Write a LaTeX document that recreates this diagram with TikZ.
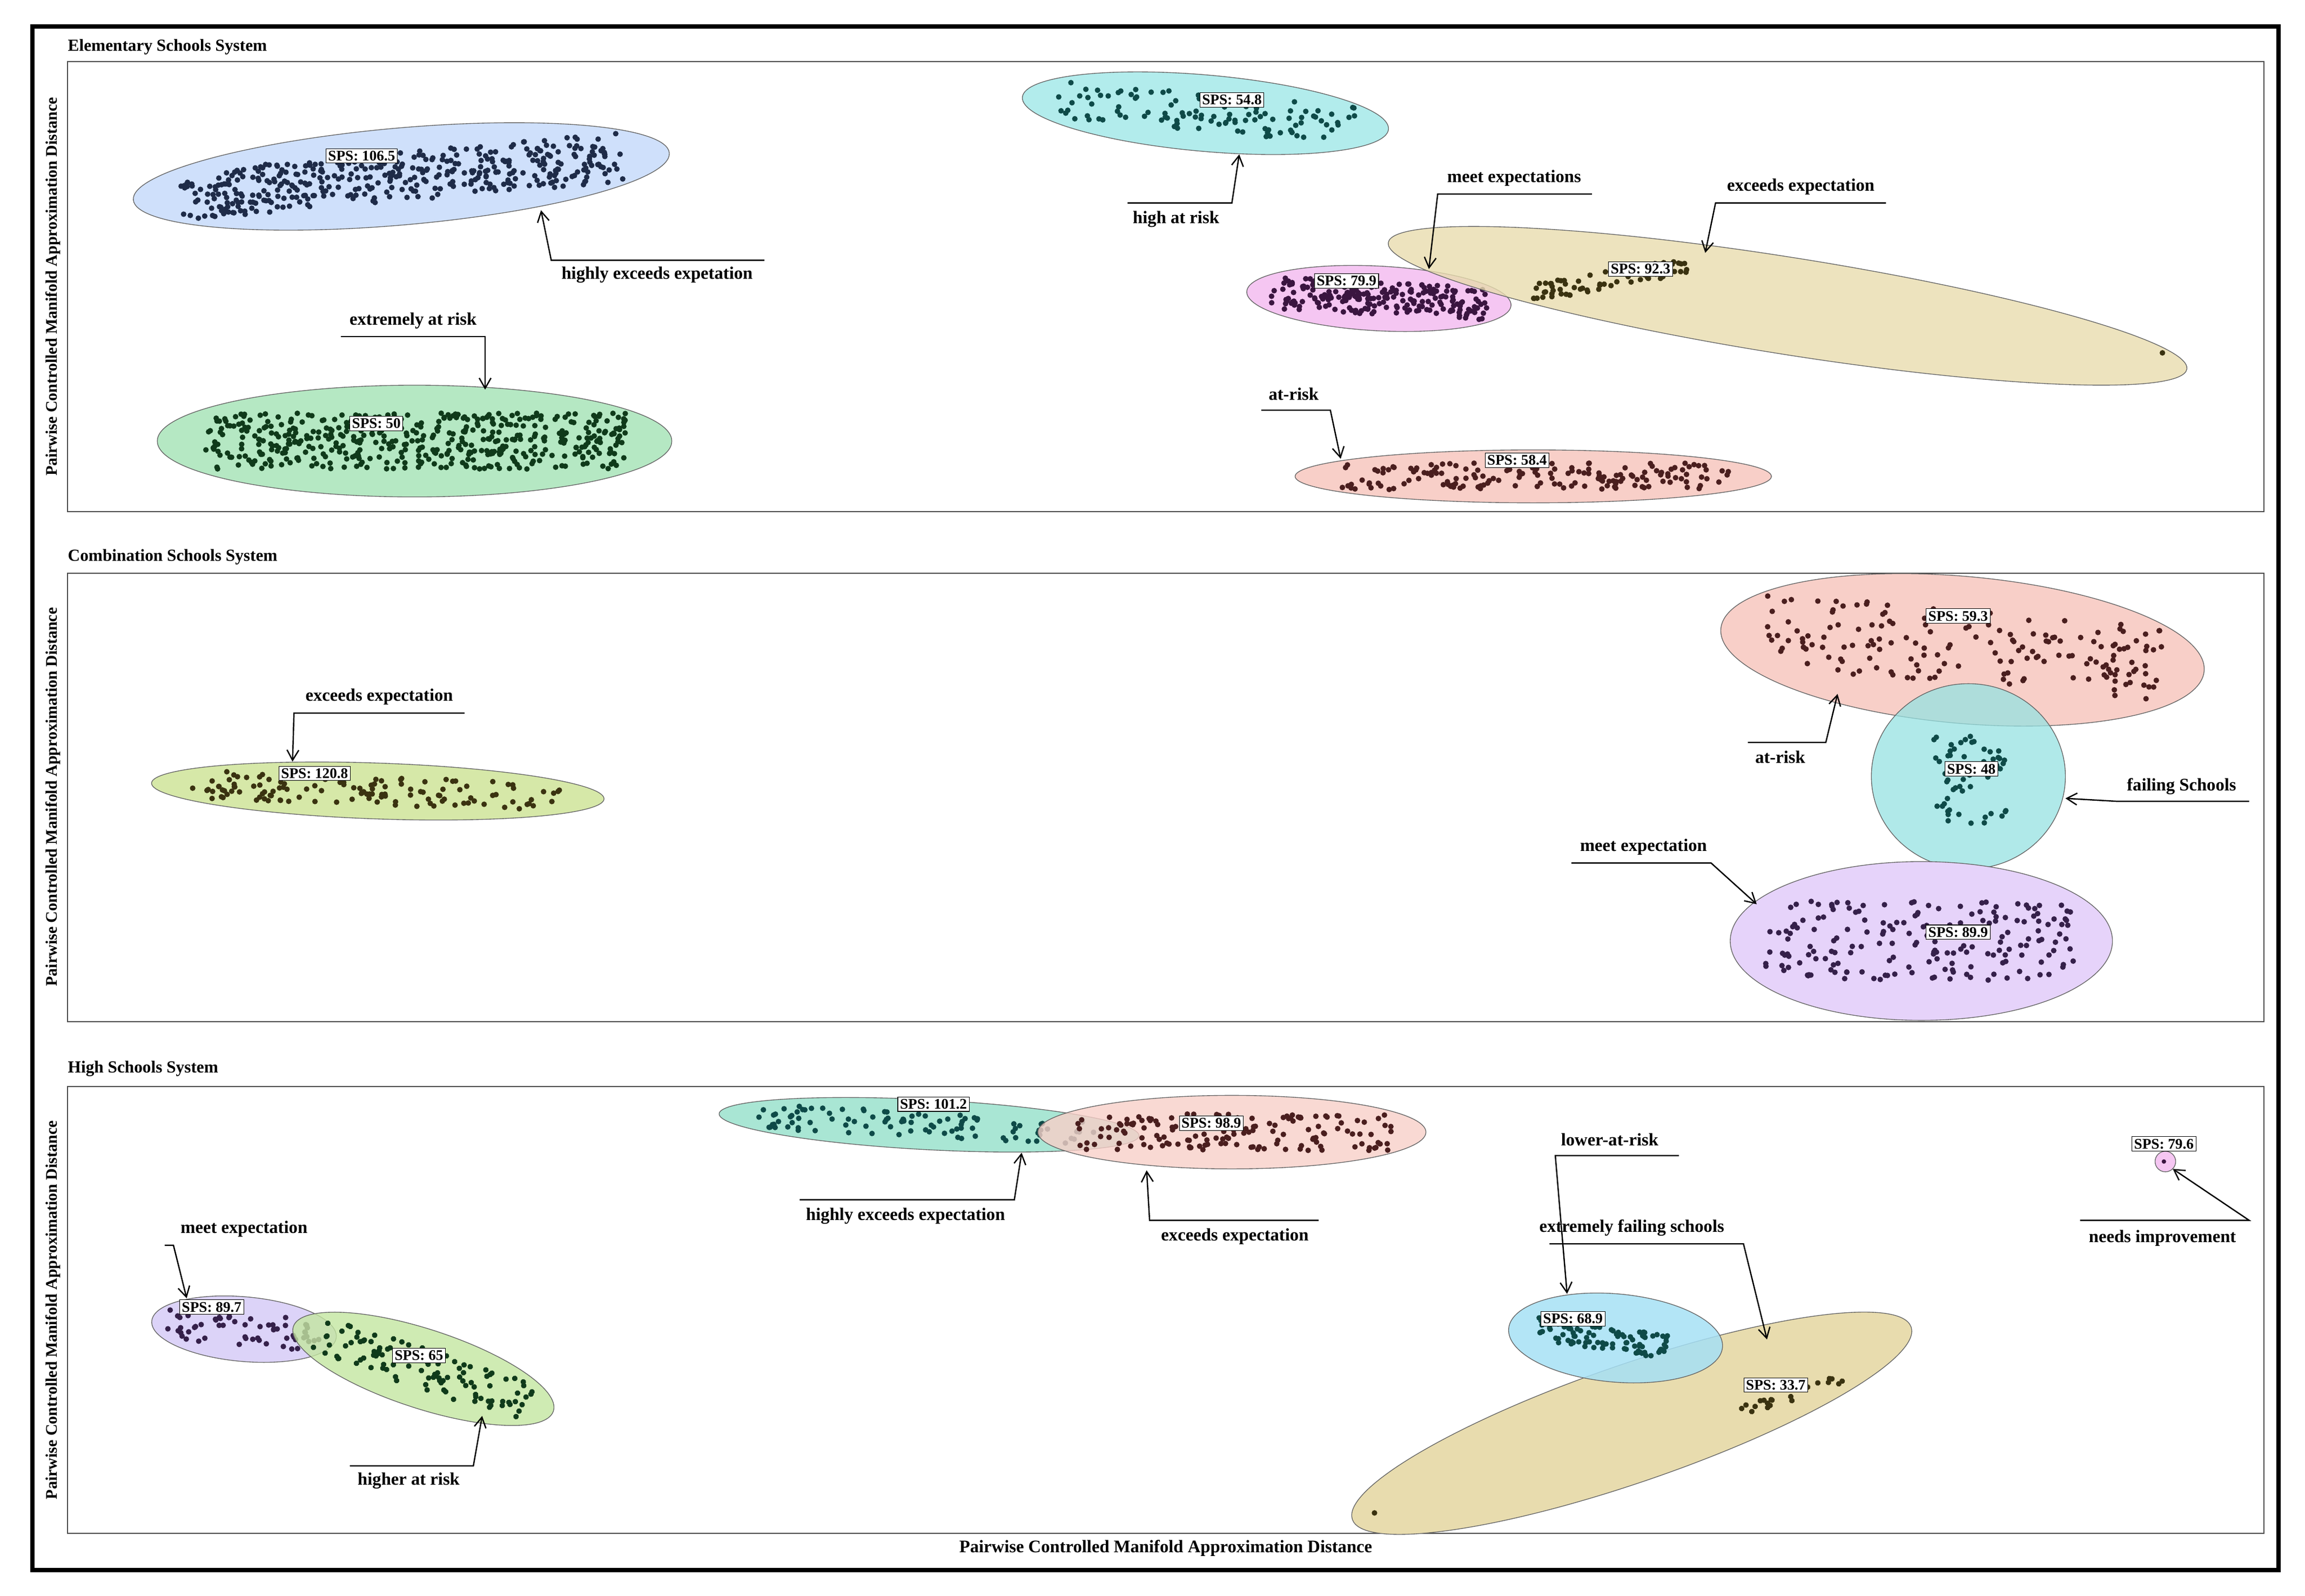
\documentclass[tikz,border=0pt]{standalone}
\usepackage{fontspec}
\setmainfont{Liberation Serif}
\begin{document}
\begin{tikzpicture}[x=1pt,y=-1pt,
  lab/.style={font=\bfseries\fontsize{12}{13}\selectfont,inner sep=1pt},
  sps/.style={draw,fill=white,font=\bfseries\fontsize{10}{11}\selectfont,inner sep=1.5pt},
  ttl/.style={font=\bfseries\fontsize{11.5}{12}\selectfont,anchor=west,inner sep=0pt},
  ylab/.style={font=\bfseries\fontsize{11}{12}\selectfont,rotate=90,inner sep=0pt},
  arr/.style={draw,line width=0.9pt,->,>={Straight Barb[length=7pt,width=8pt]}},
  ell/.style={draw=black!60,line width=0.5pt}]
\usetikzlibrary{arrows.meta}
\useasboundingbox (0,0) rectangle (1568,1085.5);
\pgfmathsetseed{7}
\newcommand\clust[7]{%
  \begin{scope}[shift={(#1,#2)},rotate=#5]
   \foreach \k in {1,...,#6}{\fill[#7] ({rand*#3*0.82},{rand*#4*0.5}) circle (1.9);}
  \end{scope}}
\definecolor{dkb}{HTML}{1E2B48}\definecolor{dkg}{HTML}{0F3A1A}\definecolor{dkt}{HTML}{0E4A48}
\definecolor{dkp}{HTML}{3A1540}\definecolor{dkr}{HTML}{4A1E1E}\definecolor{dky}{HTML}{3A3210}
\definecolor{dkv}{HTML}{35204A}
% frame
\draw[line width=3pt] (22,18) rectangle (1550,1068);
\foreach \a/\b in {42/348,390/695,739/1043}{\draw[black!70,line width=0.7pt] (46,\a) rectangle (1540,\b);}
\node[ttl] (t1) at (46,32) {Elementary Schools System};
\node[ttl] (t2) at (46,379) {Combination Schools System};
\node[ttl] (t3) at (46,727) {High Schools System};
\foreach \c/\n in {195/y1,542/y2,891/y3}{\node[ylab] (\n) at (36,\c) {Pairwise Controlled Manifold Approximation Distance};}
\node[lab] (xl) at (793,1053) {Pairwise Controlled Manifold Approximation Distance};
% ---- panel 1
\fill[ell,fill={rgb,255:red,207;green,224;blue,251}] (273,120) ellipse [x radius=183,y radius=33,rotate=5];
\clust{273}{120}{183}{33}{5}{420}{dkb}
\fill[ell,fill={rgb,255:red,178;green,236;blue,236}] (820,77) ellipse [x radius=125,y radius=26,rotate=-5];
\clust{820}{77}{125}{26}{-5}{110}{dkt}
\fill[ell,fill={rgb,255:red,181;green,232;blue,195}] (282,300) ellipse [x radius=175,y radius=38];
\clust{282}{300}{175}{38}{0}{480}{dkg}
\fill[ell,fill={rgb,255:red,245;green,198;blue,242}] (938,203) ellipse [x radius=90,y radius=22,rotate=-3];
\clust{938}{203}{90}{22}{-3}{220}{dkp}
\fill[ell,fill={rgb,255:red,232;green,220;blue,174},fill opacity=0.8] (1216,208) ellipse [x radius=275,y radius=33,rotate=-9];
\clust{1095}{190}{65}{12}{10}{70}{dky}
\fill[dky] (1471,240) circle (1.9);
\fill[ell,fill={rgb,255:red,248;green,207;blue,200}] (1043,324) ellipse [x radius=162,y radius=18];
\clust{1043}{324}{162}{18}{0}{160}{dkr}
\node[sps] (s1) at (246,106) {SPS: 106.5};
\node[sps] (s2) at (838,68) {SPS: 54.8};
\node[sps] (s3) at (256,288) {SPS: 50};
\node[sps] (s4) at (916,191) {SPS: 79.9};
\node[sps] (s5) at (1116,183) {SPS: 92.3};
\node[sps] (s6) at (1032,313) {SPS: 58.4};
\node[lab] (a1) at (447,187) {highly exceeds expetation};
\draw[arr] (520,177) -- (375,177) -- (368,143);
\node[lab] (a2) at (800,149) {high at risk};
\draw[arr] (767,138) -- (838,138) -- (843,105);
\node[lab] (a3) at (1030,121) {meet expectations};
\draw[arr] (1083,132) -- (978,132) -- (972,183);
\node[lab] (a4) at (1225,127) {exceeds expectation};
\draw[arr] (1283,138) -- (1167,138) -- (1160,172);
\node[lab] (a5) at (281,218) {extremely at risk};
\draw[arr] (232,229) -- (330,229) -- (330,265);
\node[lab] (a6) at (880,268) {at-risk};
\draw[arr] (858,279) -- (905,279) -- (912,312);
% ---- panel 2
\fill[ell,fill={rgb,255:red,214;green,232;blue,168}] (257,538) ellipse [x radius=154,y radius=19,rotate=-2];
\clust{257}{538}{154}{19}{-2}{130}{dky}
\begin{scope}
\clip (46,390) rectangle (1540,695);
\fill[ell,fill={rgb,255:red,248;green,207;blue,200}] (1335,442) ellipse [x radius=165,y radius=50,rotate=-5];
\end{scope}
\clust{1335}{440}{165}{50}{-5}{170}{dkr}
\fill[ell,fill={rgb,255:red,150;green,226;blue,226},fill opacity=0.75] (1339,528) ellipse [x radius=66,y radius=63];
\clust{1340}{530}{30}{60}{0}{60}{dkt}
\fill[ell,fill={rgb,255:red,230;green,211;blue,250}] (1307,640) ellipse [x radius=130,y radius=54];
\clust{1307}{640}{130}{54}{0}{190}{dkv}
\node[sps] (s7) at (214,526) {SPS: 120.8};
\node[sps] (s8) at (1332,419) {SPS: 59.3};
\node[sps] (s9) at (1341,523) {SPS: 48};
\node[sps] (s10) at (1332,634) {SPS: 89.9};
\node[lab] (b1) at (258,474) {exceeds expectation};
\draw[arr] (316,485) -- (200,485) -- (199,518);
\node[lab] (b2) at (1211,515) {at-risk};
\draw[arr] (1189,505) -- (1242,505) -- (1250,472);
\node[lab] (b3) at (1484,535) {failing Schools};
\draw[arr] (1530,545) -- (1440,545) -- (1405,543);
\node[lab] (b4) at (1118,576) {meet expectation};
\draw[arr] (1069,587) -- (1164,587) -- (1195,615);
% ---- panel 3
\fill[ell,fill={rgb,255:red,169;green,230;blue,212}] (632,765) ellipse [x radius=143,y radius=17,rotate=-3];
\clust{632}{765}{143}{17}{-3}{100}{dkt}
\fill[ell,fill={rgb,255:red,248;green,207;blue,200},fill opacity=0.8] (838,770) ellipse [x radius=132,y radius=25];
\clust{838}{770}{132}{25}{0}{150}{dkr}
\fill[ell,fill={rgb,255:red,220;green,211;blue,248}] (166,904) ellipse [x radius=63,y radius=22,rotate=-5];
\clust{166}{904}{63}{22}{-5}{60}{dkv}
\fill[ell,fill={rgb,255:red,195;green,230;blue,160},fill opacity=0.8] (288,931) ellipse [x radius=93,y radius=27,rotate=-18];
\clust{288}{931}{93}{27}{-18}{110}{dkg}
\fill[ell,fill={rgb,255:red,232;green,220;blue,174}] (1110,968) ellipse [x radius=201,y radius=40,rotate=19];
\fill[ell,fill={rgb,255:red,166;green,224;blue,245},fill opacity=0.85] (1099,910) ellipse [x radius=73,y radius=30,rotate=-5];
\clust{1090}{910}{55}{16}{-8}{90}{dkt}
\clust{1215}{950}{50}{8}{19}{20}{dky}
\fill[dky] (935,1029) circle (1.9);
\fill[ell,fill={rgb,255:red,245;green,198;blue,242}] (1473,790) circle (7);
\fill[dkp] (1472,790) circle (1.5);
\node[sps] (s11) at (635,751) {SPS: 101.2};
\node[sps] (s12) at (824,764) {SPS: 98.9};
\node[sps] (s13) at (144,889) {SPS: 89.7};
\node[sps] (s14) at (285,922) {SPS: 65};
\node[sps] (s15) at (1070,897) {SPS: 68.9};
\node[sps] (s16) at (1208,942) {SPS: 33.7};
\node[sps] (s17) at (1472,778) {SPS: 79.6};
\node[lab] (c1) at (166,836) {meet expectation};
\draw[arr] (112,847) -- (118,847) -- (127,883);
\node[lab] (c2) at (278,1007) {higher at risk};
\draw[arr] (238,997) -- (322,997) -- (328,963);
\node[lab] (c3) at (616,827) {highly exceeds expectation};
\draw[arr] (544,816) -- (690,816) -- (695,784);
\node[lab] (c4) at (840,841) {exceeds expectation};
\draw[arr] (897,830) -- (782,830) -- (780,796);
\node[lab] (c5) at (1095,775) {lower-at-risk};
\draw[arr] (1142,786) -- (1058,786) -- (1066,880);
\node[lab] (c6) at (1110,835) {extremely failing schools};
\draw[arr] (1054,846) -- (1186,846) -- (1202,911);
\node[lab] (c7) at (1471,842) {needs improvement};
\draw[arr] (1415,830) -- (1530,830) -- (1478,795);
\end{tikzpicture}
\end{document}
